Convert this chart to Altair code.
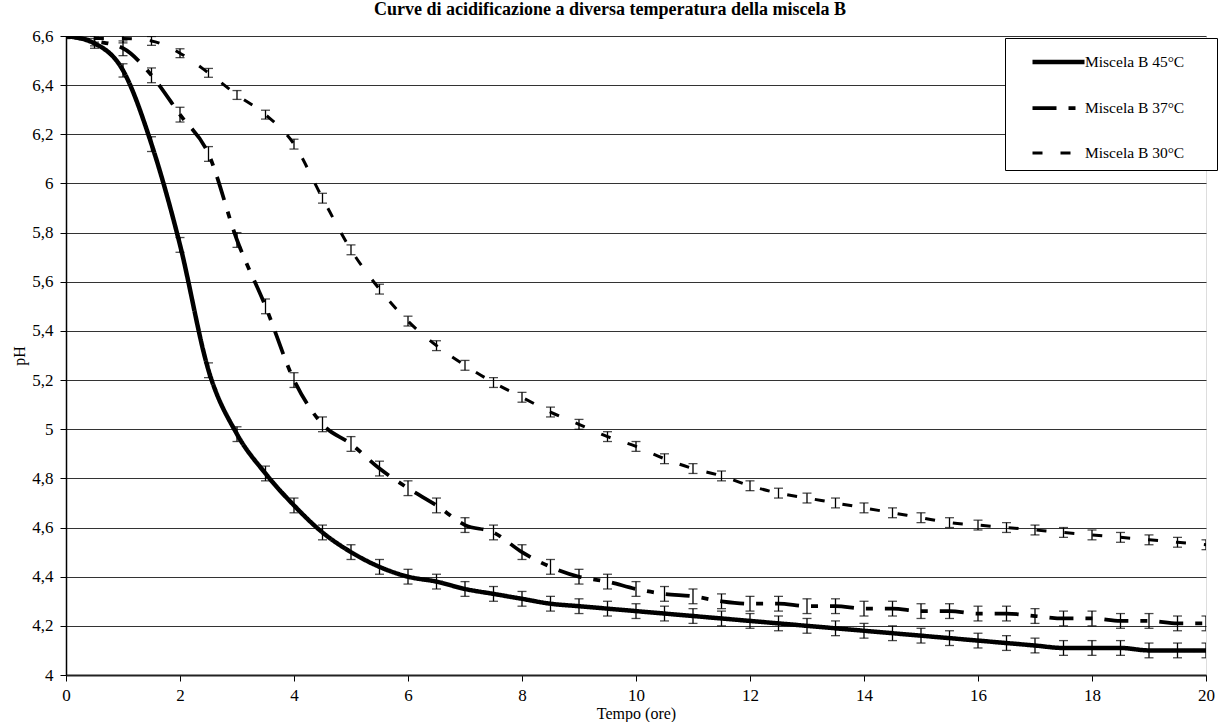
import altair as alt
import pandas as pd

# ---- data ----
hours = [0, 0.5, 1, 1.5, 2, 2.5, 3, 3.5, 4, 4.5, 5, 5.5, 6, 6.5, 7, 7.5, 8, 8.5, 9, 9.5,
         10, 10.5, 11, 11.5, 12, 12.5, 13, 13.5, 14, 14.5, 15, 15.5, 16, 16.5, 17, 17.5,
         18, 18.5, 19, 19.5, 20]

ph_45 = [6.60, 6.57, 6.46, 6.16, 5.75, 5.24, 4.98, 4.82, 4.69, 4.58, 4.50, 4.44, 4.40,
         4.38, 4.35, 4.33, 4.31, 4.29, 4.28, 4.27, 4.26, 4.25, 4.24, 4.23, 4.22, 4.21,
         4.20, 4.19, 4.18, 4.17, 4.16, 4.15, 4.14, 4.13, 4.12, 4.11, 4.11, 4.11, 4.10,
         4.10, 4.10]
ph_37 = [6.60, 6.58, 6.55, 6.44, 6.28, 6.12, 5.77, 5.50, 5.20, 5.02, 4.94, 4.84, 4.76,
         4.69, 4.61, 4.58, 4.50, 4.44, 4.40, 4.38, 4.35, 4.33, 4.32, 4.30, 4.29, 4.29,
         4.28, 4.28, 4.27, 4.27, 4.26, 4.26, 4.25, 4.25, 4.24, 4.23, 4.23, 4.22, 4.22,
         4.21, 4.21]
ph_30 = [6.60, 6.59, 6.59, 6.58, 6.53, 6.45, 6.36, 6.28, 6.16, 5.94, 5.73, 5.57, 5.44,
         5.34, 5.26, 5.19, 5.13, 5.07, 5.02, 4.97, 4.93, 4.88, 4.84, 4.81, 4.77, 4.74,
         4.72, 4.70, 4.68, 4.66, 4.64, 4.62, 4.61, 4.60, 4.59, 4.58, 4.57, 4.56, 4.55,
         4.54, 4.53]

err_45 = [0.01, 0.02, 0.027, 0.03, 0.03, 0.03, 0.03, 0.03, 0.03, 0.03, 0.03, 0.03, 0.03,
          0.03, 0.03, 0.03, 0.03, 0.03, 0.03, 0.03, 0.03, 0.03, 0.03, 0.03, 0.03, 0.03,
          0.03, 0.03, 0.03, 0.03, 0.03, 0.03, 0.03, 0.03, 0.03, 0.03, 0.03, 0.03, 0.03,
          0.03, 0.03]
err_37 = [0.01, 0.02, 0.03, 0.03, 0.03, 0.03, 0.03, 0.03, 0.03, 0.03, 0.03, 0.03, 0.03,
          0.03, 0.03, 0.03, 0.03, 0.03, 0.03, 0.03, 0.03, 0.03, 0.03, 0.03, 0.03, 0.03,
          0.03, 0.03, 0.03, 0.03, 0.03, 0.03, 0.03, 0.03, 0.03, 0.03, 0.03, 0.03, 0.03,
          0.03, 0.03]
err_30 = [0.006, 0.015, 0.018, 0.018, 0.018, 0.018, 0.018, 0.018, 0.02, 0.02, 0.02, 0.02,
          0.02, 0.02, 0.02, 0.02, 0.02, 0.02, 0.02, 0.02, 0.02, 0.02, 0.02, 0.02, 0.02,
          0.02, 0.02, 0.02, 0.02, 0.02, 0.02, 0.02, 0.02, 0.02, 0.02, 0.02, 0.02, 0.02,
          0.02, 0.02, 0.02]

series_names = ["Miscela B 45°C", "Miscela B 37°C", "Miscela B 30°C"]
y_ticks = [4, 4.2, 4.4, 4.6, 4.8, 5, 5.2, 5.4, 5.6, 5.8, 6, 6.2, 6.4, 6.6]
x_ticks = [0, 2, 4, 6, 8, 10, 12, 14, 16, 18, 20]
title_text = "Curve di acidificazione a diversa temperatura della miscela B"

rows = []
for name, vals, errs in zip(series_names, [ph_45, ph_37, ph_30], [err_45, err_37, err_30]):
    for t, v, e in zip(hours, vals, errs):
        rows.append({"t": t, "ph": v, "lo": round(v - e, 4), "hi": round(v + e, 4), "serie": name})
df = pd.DataFrame(rows)

FONT = "Liberation Serif"

x_enc = alt.X(
    "t:Q",
    scale=alt.Scale(domain=[0, 20], nice=False, zero=False),
    axis=alt.Axis(
        values=x_ticks, title="Tempo (ore)", grid=False, format="d",
        labelFont=FONT, labelFontSize=17, labelColor="black", labelPadding=6,
        tickSize=6, tickColor="black", domainColor="#222", domainWidth=2,
        titleFont=FONT, titleFontSize=16, titleFontWeight="normal", titleColor="black",
        titleX=570, titleY=43, titleBaseline="alphabetic", titleAlign="center",
        labelFlush=False,
    ),
)
y_enc = alt.Y(
    "ph:Q",
    scale=alt.Scale(domain=[4, 6.6], nice=False, zero=False),
    axis=alt.Axis(
        values=y_ticks, title="pH", grid=True, gridColor="#333", gridWidth=1,
        labelExpr="replace(format(datum.value, '.1~f'), '.', ',')",
        labelFont=FONT, labelFontSize=17, labelColor="black", labelPadding=7,
        tickSize=6, tickColor="black", domainColor="black", domainWidth=1.5,
        titleFont=FONT, titleFontSize=16, titleFontWeight="normal", titleColor="black",
        titleX=-47, titleY=319.5, titleAngle=-90, titleBaseline="middle", titleAlign="center",
        labelFlush=False,
    ),
)

lines = alt.Chart(df).mark_line(interpolate="monotone", color="black", clip=True).encode(
    x=x_enc,
    y=y_enc,
    strokeDash=alt.StrokeDash(
        "serie:N",
        scale=alt.Scale(domain=series_names, range=[[1, 0], [24, 12, 7, 12], [10, 18]]),
        legend=alt.Legend(
            title=None, orient="none", legendX=939, legendY=2, direction="vertical",
            symbolType="M-2,0H2", symbolSize=676, symbolStrokeWidth=4,
            symbolStrokeColor="black", symbolOffset=29.5,
            labelFont=FONT, labelFontSize=15.5, labelColor="black", labelOffset=11,
            labelExpr="datum.label + '\u2800\u2800'",
            strokeColor="black", fillColor="white", padding=8.5, rowPadding=21.5,
        ),
    ),
    strokeWidth=alt.StrokeWidth(
        "serie:N",
        scale=alt.Scale(domain=series_names, range=[4.5, 3, 5]),
        legend=None,
    ),
    order=alt.Order("t:Q"),
)

bars = alt.Chart(df).mark_rule(color="black", strokeWidth=1.3, clip=True).encode(
    x="t:Q", y="lo:Q", y2="hi:Q"
)
caps_lo = alt.Chart(df).mark_tick(
    color="black", thickness=1.3, size=9, orient="horizontal", clip=True
).encode(x="t:Q", y="lo:Q")
caps_hi = alt.Chart(df).mark_tick(
    color="black", thickness=1.3, size=9, orient="horizontal", clip=True
).encode(x="t:Q", y="hi:Q")

chart = (
    alt.layer(lines, bars, caps_lo, caps_hi)
    .properties(
        width=1140,
        height=639,
        title=alt.Title(
            title_text, font=FONT, fontSize=18, fontWeight="bold", color="black",
            anchor="middle", dx=-26, offset=8,
        ),
        autosize=alt.AutoSizeParams(type="none"),
        padding={"left": 66, "top": 36, "right": 12, "bottom": 47},
    )
    .configure_view(stroke="#999", strokeWidth=1)
    .configure(background="white")
)

chart.save("out.html", embed_options={"renderer": "svg", "actions": False})
